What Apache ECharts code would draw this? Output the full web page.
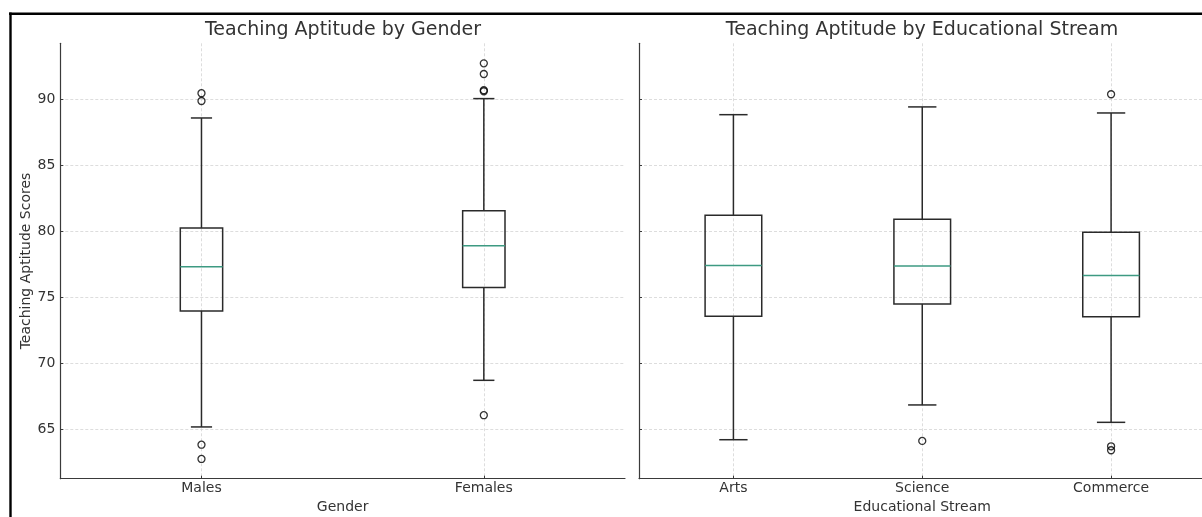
<!DOCTYPE html>
<html>
<head>
<meta charset="utf-8">
<script src="https://cdn.jsdelivr.net/npm/echarts@6/dist/echarts.min.js"></script>
<style>html,body{margin:0;padding:0;background:#fff;}#chart{width:1202px;height:517px;}</style>
</head>
<body>
<div id="chart"></div>
<script>
// ---- data ----
const genderCats = ['Males', 'Females'];
const streamCats = ['Arts', 'Science', 'Commerce'];
// [lower whisker, Q1, median, Q3, upper whisker]
const maleBox = [65.15, 73.96, 77.32, 80.26, 88.61];
const femaleBox = [68.69, 75.73, 78.91, 81.57, 90.08];
const artsBox = [64.18, 73.55, 77.40, 81.22, 88.86];
const scienceBox = [66.82, 74.49, 77.37, 80.92, 89.45];
const commerceBox = [65.50, 73.52, 76.64, 79.93, 88.99];
const maleOutliers = [90.49, 89.90, 63.80, 62.72];
const femaleOutliers = [92.76, 91.95, 90.72, 90.64, 66.04];
const artsOutliers = [];
const scienceOutliers = [64.09];
const commerceOutliers = [90.41, 63.68, 63.38];
const yTicks = [65, 70, 75, 80, 85, 90];
const yMin = 61.22, yMax = 94.28;

// ---- build ----
const genderBoxes = [maleBox, femaleBox];
const streamBoxes = [artsBox, scienceBox, commerceBox];
const genderOut = [maleOutliers, femaleOutliers];
const streamOut = [artsOutliers, scienceOutliers, commerceOutliers];
const boxData = arr => arr.map((b, i) => [i].concat(b));
const outData = arr => arr.flatMap((o, i) => o.map(v => [i, v]));

const FONT = 'DejaVu Sans';
const TXT = '#333333';
const AX = '#3a3a3a';
const BOXC = '#2a2a2a';
const MED = '#3d9a82';

function boxRender(frac) {
  return function (params, api) {
    const x = api.value(0);
    const lo = api.coord([x, api.value(1)]);
    const q1 = api.coord([x, api.value(2)]);
    const md = api.coord([x, api.value(3)]);
    const q3 = api.coord([x, api.value(4)]);
    const hi = api.coord([x, api.value(5)]);
    const band = api.size([1, 0])[0];
    const w = band * frac;
    const cx = lo[0];
    const ls = {stroke: BOXC, lineWidth: 1.5, fill: null};
    return {
      type: 'group',
      children: [
        {type: 'line', shape: {x1: cx, y1: q1[1], x2: cx, y2: lo[1]}, style: ls},
        {type: 'line', shape: {x1: cx, y1: q3[1], x2: cx, y2: hi[1]}, style: ls},
        {type: 'line', shape: {x1: cx - w / 4, y1: lo[1], x2: cx + w / 4, y2: lo[1]}, style: ls},
        {type: 'line', shape: {x1: cx - w / 4, y1: hi[1], x2: cx + w / 4, y2: hi[1]}, style: ls},
        {type: 'rect', shape: {x: cx - w / 2, y: q3[1], width: w, height: q1[1] - q3[1]}, style: ls},
        {type: 'line', shape: {x1: cx - w / 2, y1: md[1], x2: cx + w / 2, y2: md[1]}, style: {stroke: MED, lineWidth: 1.5}}
      ]
    };
  };
}

function xAxisCfg(cats, name, idx) {
  return {
    type: 'category', gridIndex: idx, data: cats, boundaryGap: true,
    name: name, nameLocation: 'middle', nameGap: 22,
    nameTextStyle: {fontSize: 14, color: TXT, fontFamily: FONT},
    axisLine: {show: true, onZero: false, lineStyle: {color: AX, width: 1.2}},
    axisTick: {show: true, inside: true, alignWithLabel: true, length: 3, lineStyle: {color: AX}},
    axisLabel: {fontSize: 14, color: TXT, fontFamily: FONT, margin: 3},
    splitLine: {show: true, alignWithLabel: true, lineStyle: {color: '#d4d4d4', type: [3, 2], width: 0.8}}
  };
}
function yAxisCfg(idx, showLabels, name) {
  return {
    type: 'value', gridIndex: idx, min: yMin, max: yMax,
    name: name || '', nameLocation: 'middle', nameGap: 27, nameRotate: 90,
    nameTextStyle: {fontSize: 14, color: TXT, fontFamily: FONT},
    axisLine: {show: true, lineStyle: {color: AX, width: 1.2}},
    axisTick: {show: true, inside: true, length: 3, customValues: yTicks, lineStyle: {color: AX}},
    axisLabel: {show: showLabels, customValues: yTicks, fontSize: 14, color: TXT, fontFamily: FONT, margin: 5},
    splitLine: {show: true, lineStyle: {color: '#d4d4d4', type: [3, 2], width: 0.8}}
  };
}

const chart = echarts.init(document.getElementById('chart'), null, {renderer: 'canvas'});
chart.setOption({
  animation: false,
  backgroundColor: '#ffffff',
  textStyle: {fontFamily: FONT},
  grid: [
    {left: 60.3, top: 43.3, width: 564.7, height: 435.4, containLabel: false, outerBoundsMode: 'none'},
    {left: 639, top: 43.3, width: 566.5, height: 435.4, containLabel: false, outerBoundsMode: 'none'}
  ],
  xAxis: [xAxisCfg(genderCats, 'Gender', 0), xAxisCfg(streamCats, 'Educational Stream', 1)],
  yAxis: [yAxisCfg(0, true, 'Teaching Aptitude Scores'), yAxisCfg(1, false, '')],
  graphic: [
    {type: 'text', x: 343, y: 30, style: {text: 'Teaching Aptitude by Gender', font: '19px "DejaVu Sans"', fill: TXT, align: 'center', verticalAlign: 'middle'}},
    {type: 'text', x: 922, y: 30, style: {text: 'Teaching Aptitude by Educational Stream', font: '19px "DejaVu Sans"', fill: TXT, align: 'center', verticalAlign: 'middle'}},
    {type: 'line', shape: {x1: 9, y1: 13.8, x2: 1202, y2: 13.8}, style: {stroke: '#000', lineWidth: 2.4}},
    {type: 'line', shape: {x1: 10.5, y1: 12.6, x2: 10.5, y2: 517}, style: {stroke: '#000', lineWidth: 2.4}}
  ],
  series: [
    {type: 'custom', xAxisIndex: 0, yAxisIndex: 0, data: boxData(genderBoxes), encode: {x: 0, y: [1, 2, 3, 4, 5]}, renderItem: boxRender(0.15), z: 3},
    {type: 'custom', xAxisIndex: 1, yAxisIndex: 1, data: boxData(streamBoxes), encode: {x: 0, y: [1, 2, 3, 4, 5]}, renderItem: boxRender(0.30), z: 3},
    {type: 'scatter', xAxisIndex: 0, yAxisIndex: 0, data: outData(genderOut), symbol: 'circle', symbolSize: 7,
      itemStyle: {color: 'rgba(255,255,255,0)', borderColor: '#000', borderWidth: 1.3}, z: 4},
    {type: 'scatter', xAxisIndex: 1, yAxisIndex: 1, data: outData(streamOut), symbol: 'circle', symbolSize: 7,
      itemStyle: {color: 'rgba(255,255,255,0)', borderColor: '#000', borderWidth: 1.3}, z: 4}
  ]
});
</script>
</body>
</html>
